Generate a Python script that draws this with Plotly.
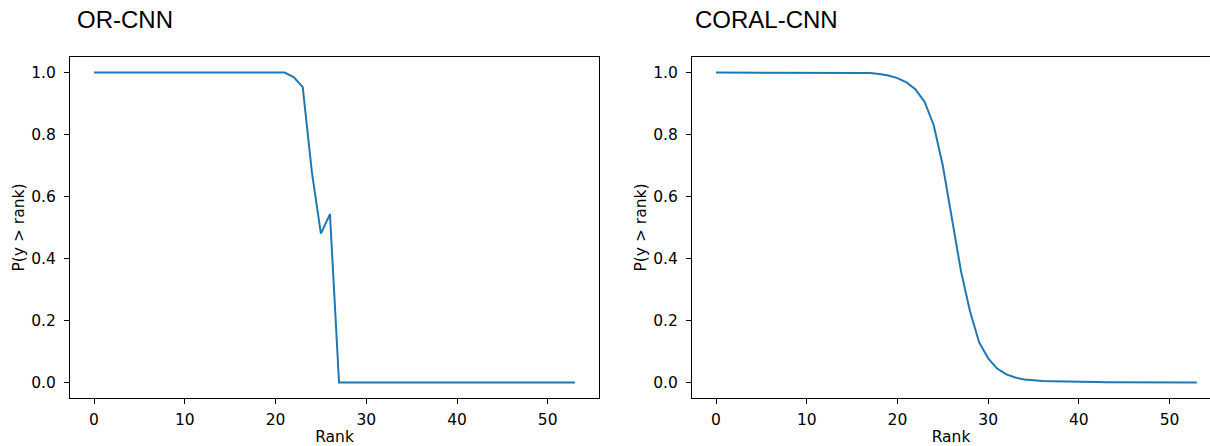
import plotly.graph_objects as go

ranks = list(range(54))

or_cnn = [1.0] * 22 + [0.985, 0.953, 0.68, 0.48, 0.543] + [0.0] * 27

coral_cnn = [
    0.9999, 0.9999, 0.9999, 0.9999, 0.9999, 0.9999, 0.9999, 0.9999, 0.9999, 0.9999,
    0.9999, 0.9999, 0.9998, 0.9998, 0.9997, 0.9995, 0.999, 0.998, 0.995, 0.99,
    0.982, 0.968, 0.945, 0.905, 0.83, 0.70, 0.53, 0.36, 0.23, 0.13,
    0.078, 0.045, 0.026, 0.016, 0.010, 0.007, 0.005, 0.004, 0.003, 0.002,
    0.0018, 0.0015, 0.0013, 0.0011, 0.001, 0.0009, 0.0008, 0.0007, 0.0006, 0.0006,
    0.0005, 0.0005, 0.0004, 0.0004,
]

titles = ["OR-CNN", "CORAL-CNN"]
x_label = "Rank"
y_label = "P(y > rank)"
x_ticks = [0, 10, 20, 30, 40, 50]
y_ticks = [0.0, 0.2, 0.4, 0.6, 0.8, 1.0]
y_tick_text = ["0.0", "0.2", "0.4", "0.6", "0.8", "1.0"]

W, H = 1210, 446
line_color = "#1f77b4"
tick_font = dict(family="DejaVu Sans", size=15.5, color="black")

fig = go.Figure()
fig.add_trace(go.Scatter(x=ranks, y=or_cnn, mode="lines",
                         line=dict(color=line_color, width=2),
                         xaxis="x", yaxis="y", showlegend=False))
fig.add_trace(go.Scatter(x=ranks, y=coral_cnn, mode="lines",
                         line=dict(color=line_color, width=2),
                         xaxis="x2", yaxis="y2", showlegend=False))

def xax(domain, rng, anchor, mirror):
    return dict(domain=domain, range=rng, anchor=anchor, tickvals=x_ticks,
                ticks="outside", ticklen=5, tickwidth=1.2, tickcolor="black",
                showline=True, linecolor="black", linewidth=1.2, mirror=mirror,
                showgrid=False, zeroline=False, tickfont=tick_font,
                ticklabelstandoff=2,
                title=dict(text=x_label, font=tick_font, standoff=4))

def yax(anchor, mirror):
    return dict(domain=[0, 1], range=[-0.05, 1.05], anchor=anchor, tickvals=y_ticks,
                ticktext=y_tick_text,
                ticks="outside", ticklen=5, tickwidth=1.2, tickcolor="black",
                showline=True, linecolor="black", linewidth=1.2, mirror=mirror,
                showgrid=False, zeroline=False, tickfont=tick_font,
                ticklabelstandoff=5,
                title=dict(text=y_label, font=tick_font, standoff=2))

top_px, bot_px = 57, 398
left1, right1 = 70, 599
left2 = 692

fig.update_layout(
    width=W, height=H,
    margin=dict(l=0, r=0, t=top_px, b=H - bot_px),
    plot_bgcolor="white", paper_bgcolor="white",
    xaxis=xax([left1 / W, right1 / W], [-2.65, 55.65], "y", True),
    yaxis=yax("x", True),
    xaxis2=xax([left2 / W, 1.0], [-2.65, 54.46], "y2", True),
    yaxis2=yax("x2", False),
)

plot_h = bot_px - top_px
title_y = (bot_px - 19) / plot_h
fig.add_annotation(text=titles[0], xref="paper", yref="paper",
                   x=76 / W, y=title_y, xanchor="left", yanchor="middle",
                   showarrow=False, borderpad=0,
                   font=dict(family="Liberation Sans", size=24, color="black"))
fig.add_annotation(text=titles[1], xref="paper", yref="paper",
                   x=694 / W, y=title_y, xanchor="left", yanchor="middle",
                   showarrow=False, borderpad=0,
                   font=dict(family="Liberation Sans", size=24, color="black"))

fig.write_html("out.html",
               config={"displayModeBar": False},
               post_script="document.body.style.margin='0px';document.body.style.overflow='hidden';")
